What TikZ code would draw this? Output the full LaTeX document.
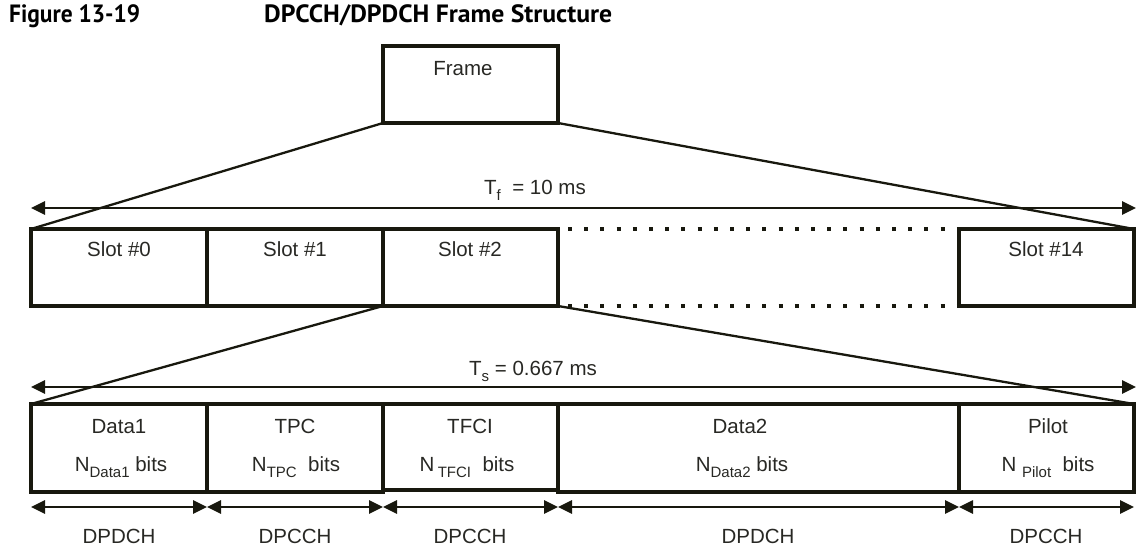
\documentclass[tikz,border=0pt]{standalone}
\usepackage{fontspec}
\setmainfont{Liberation Sans}
\newfontfamily\titlefont{PT Sans}
\usetikzlibrary{arrows.meta,calc}
\definecolor{ink}{RGB}{24,24,14}
\definecolor{txt}{RGB}{40,40,36}
\newcommand\mysb[1]{\raisebox{-0.3em}{\fontsize{15}{15}\selectfont #1}}
\begin{document}
\begin{tikzpicture}[x=1pt,y=-1pt,
  cell/.style={draw=ink, line width=3.2pt, inner sep=0pt, outer sep=0pt, anchor=north west},
  lbl/.style={anchor=base, inner sep=0pt, text=txt, font=\fontsize{20.5}{20.5}\selectfont},
  ttl/.style={anchor=base west, inner sep=0pt, text=black},
  slant/.style={draw=ink, line width=2.3pt},
  span/.style={draw=ink, line width=2.6pt, {Triangle[length=14pt,width=13pt]}-{Triangle[length=14pt,width=13pt]}},
  dotline/.style={draw=ink, line width=4pt, dash pattern=on 4pt off 12.2pt, dash phase=-8pt}]
\useasboundingbox (0,0) rectangle (1136,551);
% title
\node[ttl] (fignum) at (9,23) {\resizebox{131pt}{\height}{\titlefont\bfseries\fontsize{25}{25}\selectfont Figure 13-19}};
\node[ttl] (figttl) at (264,23) {\resizebox{348pt}{\height}{\titlefont\bfseries\fontsize{25}{25}\selectfont DPCCH/DPDCH Frame Structure}};
% frame
\node[cell, minimum width=175pt, minimum height=77pt] (frame) at (383,46) {};
\node[lbl] (frametxt) at (463,76) {Frame};
% slots
\node[cell, minimum width=176pt, minimum height=77pt] (s0) at (31,229) {};
\node[cell, minimum width=176pt, minimum height=77pt] (s1) at (207,229) {};
\node[cell, minimum width=175pt, minimum height=77pt] (s2) at (383,229) {};
\node[cell, minimum width=175pt, minimum height=77pt] (s14) at (959,229) {};
\node[lbl] (s0t) at (119,256) {Slot \#0};
\node[lbl] (s1t) at (295,256) {Slot \#1};
\node[lbl] (s2t) at (470,256) {Slot \#2};
\node[lbl] (s14t) at (1046,256) {Slot \#14};
\draw[dotline] ([xshift=2pt]s2.north east) -- (s14.north west);
\draw[dotline] ([xshift=2pt]s2.south east) -- (s14.south west);
% fields
\node[cell, minimum width=176pt, minimum height=88pt] (b1) at (31,404) {};
\node[cell, minimum width=176pt, minimum height=88pt] (b2) at (207,404) {};
\node[cell, minimum width=175pt, minimum height=86pt] (b3) at (383,404) {};
\node[cell, minimum width=401pt, minimum height=88pt] (b4) at (558,404) {};
\node[cell, minimum width=175pt, minimum height=88pt] (b5) at (959,404) {};
\node[lbl] (b1a) at (119,433) {Data1};
\node[lbl] (b2a) at (295,433) {TPC};
\node[lbl] (b3a) at (470,433) {TFCI};
\node[lbl] (b4a) at (740,433) {Data2};
\node[lbl] (b5a) at (1048,433) {Pilot};
\node[lbl] (b1b) at (121,471) {N\mysb{Data1} bits};
\node[lbl] (b2b) at (296,471) {N\mysb{TPC}\ \ bits};
\node[lbl] (b3b) at (467,471) {N\,\mysb{TFCI}\ \ bits};
\node[lbl] (b4b) at (742,471) {N\mysb{Data2} bits};
\node[lbl] (b5b) at (1048,471) {N \mysb{Pilot}\ \ bits};
% expansion lines
\draw[slant] (frame.south west) -- (s0.north west);
\draw[slant] (frame.south east) -- (s14.north east);
\draw[slant] (s2.south west) -- (b1.north west);
\draw[slant] (s2.south east) -- (b5.north east);
% duration arrows
\draw[span] ([yshift=21pt]s0.north west) -- ([xshift=2pt,yshift=21pt]s14.north east);
\node[lbl] (tf) at (535,194) {T\mysb{f}\ \ = 10 ms};
\draw[span] ([yshift=17pt]b1.north west) -- ([xshift=2pt,yshift=17pt]b5.north east);
\node[lbl] (ts) at (533,375) {T\mysb{s}\ = 0.667 ms};
% channel arrows
\draw[span] ([yshift=-15pt]b1.south west) -- ([yshift=-15pt]b1.south east);
\draw[span] ([yshift=-15pt]b2.south west) -- ([yshift=-15pt]b2.south east);
\draw[span] ([yshift=-17pt]b3.south west) -- ([yshift=-17pt]b3.south east);
\draw[span] ([yshift=-15pt]b4.south west) -- ([yshift=-15pt]b4.south east);
\draw[span] ([yshift=-15pt]b5.south west) -- ([yshift=-15pt]b5.south east);
\node[lbl] (c1) at (119,543) {DPDCH};
\node[lbl] (c2) at (295,543) {DPCCH};
\node[lbl] (c3) at (470,543) {DPCCH};
\node[lbl] (c4) at (758,543) {DPDCH};
\node[lbl] (c5) at (1046,543) {DPCCH};
\end{tikzpicture}
\end{document}
